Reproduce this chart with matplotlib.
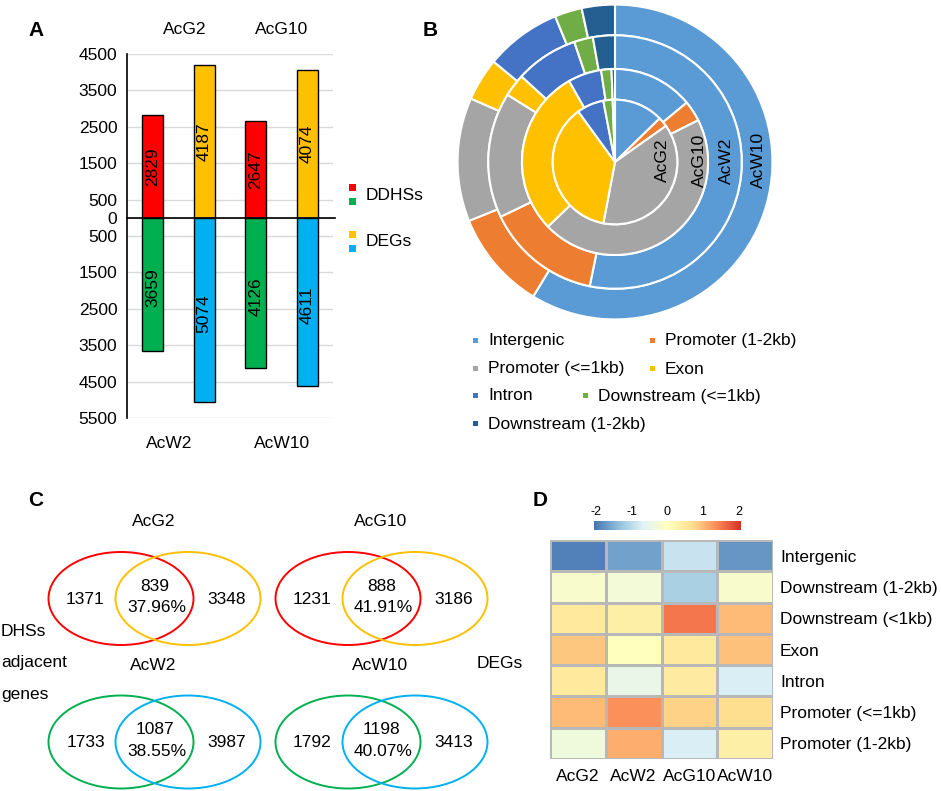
import numpy as np
import matplotlib
matplotlib.use("Agg")
import matplotlib.pyplot as plt
from matplotlib.patches import Ellipse, Rectangle
from matplotlib.colors import LinearSegmentedColormap, Normalize
from matplotlib.cm import ScalarMappable

plt.rcParams['font.family'] = ['Liberation Sans', 'DejaVu Sans']

W, H = 941, 791
FS = 12.5

# ---- panel A: DHS / DEG counts (up above zero, down below zero)
bar_names = ["AcG2 DHS", "AcG2 DEG", "AcG10 DHS", "AcG10 DEG"]
up_values = [2829, 4187, 2647, 4074]
down_values = [3659, 5074, 4126, 4611]
up_colors = ["#FF0000", "#FFC000", "#FF0000", "#FFC000"]
down_colors = ["#00B050", "#00B0F0", "#00B050", "#00B0F0"]
a_ticks = [4500, 3500, 2500, 1500, 500, 0, -500, -1500, -2500, -3500, -4500, -5500]

# ---- panel B: genomic distribution (%) per ring
region_names = ["Intergenic", "Promoter (1-2kb)", "Promoter (<=1kb)", "Exon",
                "Intron", "Downstream (<=1kb)", "Downstream (1-2kb)"]
region_colors = ["#5B9BD5", "#ED7D31", "#A5A5A5", "#FFC000",
                 "#4472C4", "#70AD47", "#255E91"]
acg2_pct = [12.7, 2.5, 37.8, 37.0, 7.0, 2.4, 0.6]
acg10_pct = [14.0, 3.6, 45.2, 29.0, 5.8, 1.8, 0.6]
acw2_pct = [53.2, 14.7, 16.0, 2.9, 8.0, 2.4, 2.8]
acw10_pct = [58.7, 10.2, 12.7, 4.4, 7.8, 2.8, 3.4]

# ---- panel C: venn numbers
venn_titles = ["AcG2", "AcG10", "AcW2", "AcW10"]
venn_left = [1371, 1231, 1733, 1792]
venn_mid = [839, 888, 1087, 1198]
venn_pct = ["37.96%", "41.91%", "38.55%", "40.07%"]
venn_right = [3348, 3186, 3987, 3413]

# ---- panel D: heatmap (scaled)
heat_rows = ["Intergenic", "Downstream (1-2kb)", "Downstream (<1kb)", "Exon",
             "Intron", "Promoter (<=1kb)", "Promoter (1-2kb)"]
heat_cols = ["AcG2", "AcW2", "AcG10", "AcW10"]
heat_vals = [
    [-1.95, -1.65, -0.90, -1.75],
    [-0.15, -0.30, -1.15, -0.15],
    [0.50, 0.35, 1.55, 1.00],
    [0.90, 0.00, 0.50, 0.95],
    [0.50, -0.50, 0.45, -0.75],
    [1.00, 1.35, 0.80, 0.70],
    [-0.35, 1.10, -0.75, 0.35],
]

fig = plt.figure(figsize=(W / 100, H / 100), dpi=100)


def px_axes(left, top, width, height):
    return fig.add_axes([left / W, 1 - (top + height) / H, width / W, height / H])


# ================= A
axA = px_axes(127, 54, 206, 364)
x = np.arange(len(bar_names))
axA.bar(x, up_values, width=0.41, color=up_colors, edgecolor="black", linewidth=1, zorder=3)
axA.bar(x, [-v for v in down_values], width=0.41, color=down_colors,
        edgecolor="black", linewidth=1, zorder=3)
for xi, v in zip(x, up_values):
    axA.text(xi, v / 2, str(v), rotation=90, ha="center", va="center", fontsize=FS, zorder=4)
for xi, v in zip(x, down_values):
    axA.text(xi, -v / 2 - 100, str(v), rotation=90, ha="center", va="center", fontsize=FS, zorder=4)
axA.axhline(0, color="black", linewidth=1.2, zorder=4, xmax=1.01, clip_on=False)
axA.set_xlim(-0.5, 3.5)
axA.set_ylim(-5500, 4500)
axA.set_yticks(a_ticks)
axA.set_yticklabels([str(abs(t)) for t in a_ticks], fontsize=FS)
axA.set_xticks([])
axA.yaxis.grid(True, color="#D9D9D9", linewidth=1)
axA.set_axisbelow(True)
axA.tick_params(axis="y", length=0, pad=7)
for s in ["top", "right", "bottom"]:
    axA.spines[s].set_visible(False)
axA.spines["left"].set_linewidth(1.2)

# ================= B
R = 159
axB = px_axes(615 - R, 162 - R, 2 * R, 2 * R)
radii = [1.0, 0.805, 0.591, 0.396]
rings = [acw10_pct, acw2_pct, acg10_pct, acg2_pct]
for i, (r, vals) in enumerate(zip(radii, rings)):
    wp = dict(edgecolor="white", linewidth=1.5)
    if i < 3:
        wp["width"] = r - radii[i + 1]
    axB.pie(vals, radius=r, colors=region_colors, startangle=90,
            counterclock=False, wedgeprops=wp)
axB.set_xlim(-1.01, 1.01)
axB.set_ylim(-1.01, 1.01)
ring_labels = ["AcG2", "AcG10", "AcW2", "AcW10"]
ring_xpos = [0.30, 0.535, 0.71, 0.91]
for lab, xp in zip(ring_labels, ring_xpos):
    axB.text(xp, 0.01, lab, rotation=90, ha="center", va="center", fontsize=FS)

# ================= D
axD = px_axes(550, 540, 223, 219)
cmap = LinearSegmentedColormap.from_list(
    "rdylbu", ["#4575B4", "#91BFDB", "#E0F3F8", "#FFFFBF", "#FEE090", "#FC8D59", "#D73027"])
norm = Normalize(vmin=-2.07, vmax=2.07)
axD.pcolormesh(np.array(heat_vals), cmap=cmap, norm=norm, edgecolors="#B8B8B8", linewidth=1)
axD.set_xlim(0, 4)
axD.set_ylim(7, 0)
axD.set_xticks(np.arange(4) + 0.5)
axD.set_xticklabels(heat_cols, fontsize=FS)
axD.set_yticks(np.arange(7) + 0.5)
axD.set_yticklabels(heat_rows, fontsize=FS)
axD.yaxis.tick_right()
axD.tick_params(length=0, pad=5)
axD.tick_params(axis="x", pad=7)
for s in axD.spines.values():
    s.set_visible(False)

cax = px_axes(594, 521, 147, 9)
cb = fig.colorbar(ScalarMappable(norm=norm, cmap=cmap), cax=cax, orientation="horizontal")
cb.set_ticks([-2, -1, 0, 1, 2])
cb.set_ticklabels(["-2", "-1", "0", "1", "2"])
cb.outline.set_visible(False)
cax.xaxis.set_ticks_position("top")
cax.tick_params(length=0, labelsize=9, pad=2)

# ================= overlay (text, legends, venn)
ov = fig.add_axes([0, 0, 1, 1])
ov.set_xlim(0, W)
ov.set_ylim(H, 0)
ov.axis("off")

for lab, (px, py) in zip("ABCD", [(36, 31), (430, 31), (36, 500), (540, 500)]):
    ov.text(px, py, lab, fontsize=15, fontweight="bold", ha="center", va="center")

# panel A group labels
for lab, (px, py) in zip(["AcG2", "AcG10", "AcW2", "AcW10"],
                         [(185, 29), (282, 30), (169, 444), (282, 444)]):
    ov.text(px, py, lab, fontsize=FS, ha="center", va="center")

# panel A legend
for col, py in zip(["#FF0000", "#00B050", "#FFC000", "#00B0F0"], [187.5, 201.5, 234.5, 248.5]):
    ov.add_patch(Rectangle((349, py - 3.5), 7, 7, color=col, lw=0))
ov.text(366, 195, "DDHSs", fontsize=FS, va="center")
ov.text(366, 242, "DEGs", fontsize=FS, va="center")

# panel B legend
leg_pos = [(476, 340), (653, 340), (476, 368), (653, 368), (476, 395), (586, 395), (476, 423)]
for name, col, (px, py) in zip(region_names, region_colors, leg_pos):
    ov.add_patch(Rectangle((px - 2.5, py - 2.5), 5, 5, color=col, lw=0))
    ov.text(px + 12, py + 1, name, fontsize=FS, va="center")

# panel C venns
venn_centers = [(154.5, 598.5), (381.5, 598.5), (154.5, 742), (381.5, 742)]
venn_cols = [("#FF0000", "#FFC000"), ("#FF0000", "#FFC000"),
             ("#00B050", "#00B0F0"), ("#00B050", "#00B0F0")]
for i, (cx, cy) in enumerate(venn_centers):
    c1, c2 = venn_cols[i]
    ov.add_patch(Ellipse((cx - 33.5, cy), 145, 93, fill=False, edgecolor=c1, linewidth=1.4))
    ov.add_patch(Ellipse((cx + 33.5, cy), 145, 93, fill=False, edgecolor=c2, linewidth=1.4))
    ov.text(cx - 1, cy - 77, venn_titles[i], fontsize=FS, ha="center", va="center")
    ov.text(cx - 69, cy + 0.5, str(venn_left[i]), fontsize=FS, ha="center", va="center")
    ov.text(cx, cy - 12, str(venn_mid[i]), fontsize=FS, ha="center", va="center")
    ov.text(cx + 2, cy + 9.5, venn_pct[i], fontsize=FS, ha="center", va="center")
    ov.text(cx + 72, cy + 0.5, str(venn_right[i]), fontsize=FS, ha="center", va="center")

for txt, py in zip(["DHSs", "adjacent", "genes"], [632, 663, 694]):
    ov.text(1, py, txt, fontsize=FS, va="center")
ov.text(477, 663, "DEGs", fontsize=FS, va="center")

fig.savefig("out.png", dpi=100)
